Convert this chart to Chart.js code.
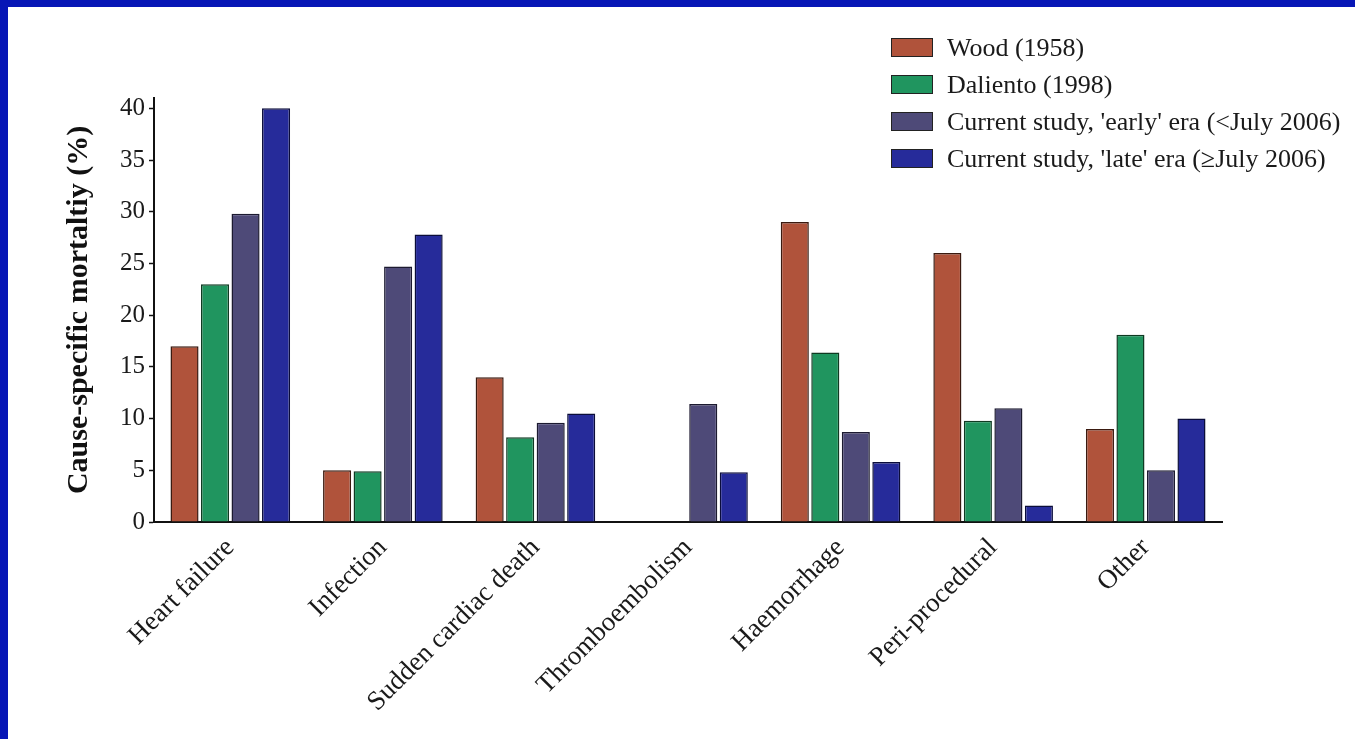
<!DOCTYPE html>
<html>
<head>
<meta charset="utf-8">
<script src="https://cdn.jsdelivr.net/npm/chart.js@4/dist/chart.umd.min.js"></script>
<style>
    html, body { margin: 0; padding: 0; }
    body { width: 1355px; height: 739px; background: #0716b6; position: relative; overflow: hidden; }
    .panel { position: absolute; left: 8px; top: 7px; width: 1347px; height: 732px; background: #fff; }
    .legend { position: absolute; left: 891px; top: 38px; font-family: 'Liberation Serif', serif; font-size: 26px; color: #1a1a1a; }
    .legend-item { display: flex; align-items: center; height: 19px; margin-bottom: 18px; white-space: nowrap; }
    .legend-box { width: 40px; height: 17px; border: 1px solid #222; margin-right: 14px; flex: none; }
</style>
</head>
<body>
<div class="panel">
    <canvas id="mortalityChart" width="1347" height="732"></canvas>
</div>
<div class="legend" id="legend"></div>
<script>
// Categories and values (%)
const categories = ['Heart failure', 'Infection', 'Sudden cardiac death', 'Thromboembolism', 'Haemorrhage', 'Peri-procedural', 'Other'];
const wood1958 = [17, 5, 14, null, 29, 26, 9];
const daliento1998 = [23, 4.9, 8.2, null, 16.4, 9.8, 18.1];
const earlyEra = [29.8, 24.7, 9.6, 11.4, 8.7, 11.0, 5.0];
const lateEra = [40, 27.8, 10.5, 4.8, 5.8, 1.6, 10.0];
const seriesNames = ['Wood (1958)', 'Daliento (1998)', "Current study, 'early' era (<July 2006)", "Current study, 'late' era (\u2265July 2006)"];
const yTicks = [0, 5, 10, 15, 20, 25, 30, 35, 40];

const colors = ['#b0533b', '#20955f', '#4e4a78', '#262b9a'];
const edges = ['#3a1a10', '#0f3a22', '#1c1a30', '#0b0d3a'];
const serif = "'Liberation Serif', 'Times New Roman', serif";

const seriesData = [wood1958, daliento1998, earlyEra, lateEra];
const datasets = seriesData.map((data, i) => ({
    label: seriesNames[i],
    data: data,
    backgroundColor: colors[i],
    borderColor: edges[i],
    borderWidth: 1.5,
    barPercentage: 0.92,
    categoryPercentage: 0.8
}));

const ctx = document.getElementById('mortalityChart').getContext('2d');
const chart = new Chart(ctx, {
    type: 'bar',
    data: { labels: categories, datasets: datasets },
    options: {
        responsive: false,
        animation: false,
        layout: { padding: { left: 50, top: 91, right: 133, bottom: 0 } },
        plugins: {
            legend: { display: false },
            tooltip: { enabled: false }
        },
        scales: {
            x: {
                grid: { display: false },
                border: { display: true, color: '#111', width: 2 },
                ticks: {
                    font: { family: serif, size: 27 },
                    color: '#1a1a1a',
                    minRotation: 45,
                    maxRotation: 45,
                    padding: 2
                },
                afterFit: scale => { scale.height = 217; }
            },
            y: {
                min: 0,
                max: 41,
                afterBuildTicks: scale => {
                    scale.ticks = yTicks.map(v => ({ value: v }));
                },
                grid: {
                    drawOnChartArea: false,
                    drawTicks: true,
                    tickLength: 5,
                    tickWidth: 1.5,
                    tickColor: '#111'
                },
                border: { display: true, color: '#111', width: 2 },
                ticks: {
                    font: { family: serif, size: 25 },
                    color: '#1a1a1a',
                    padding: 4
                },
                title: {
                    display: true,
                    text: 'Cause-specific mortaltiy (%)',
                    font: { family: serif, size: 30, weight: 'bold' },
                    color: '#111',
                    padding: { top: 3, bottom: 0 }
                },
                afterFit: scale => { scale.width = 96; }
            }
        }
    }
});

// Legend built from the chart datasets
const legendEl = document.getElementById('legend');
legendEl.innerHTML = chart.data.datasets.map(ds => `
    <div class="legend-item">
        <span class="legend-box" style="background:${ds.backgroundColor}"></span>
        <span>${ds.label.replace('<', '&lt;')}</span>
    </div>
`).join('');
</script>
</body>
</html>
